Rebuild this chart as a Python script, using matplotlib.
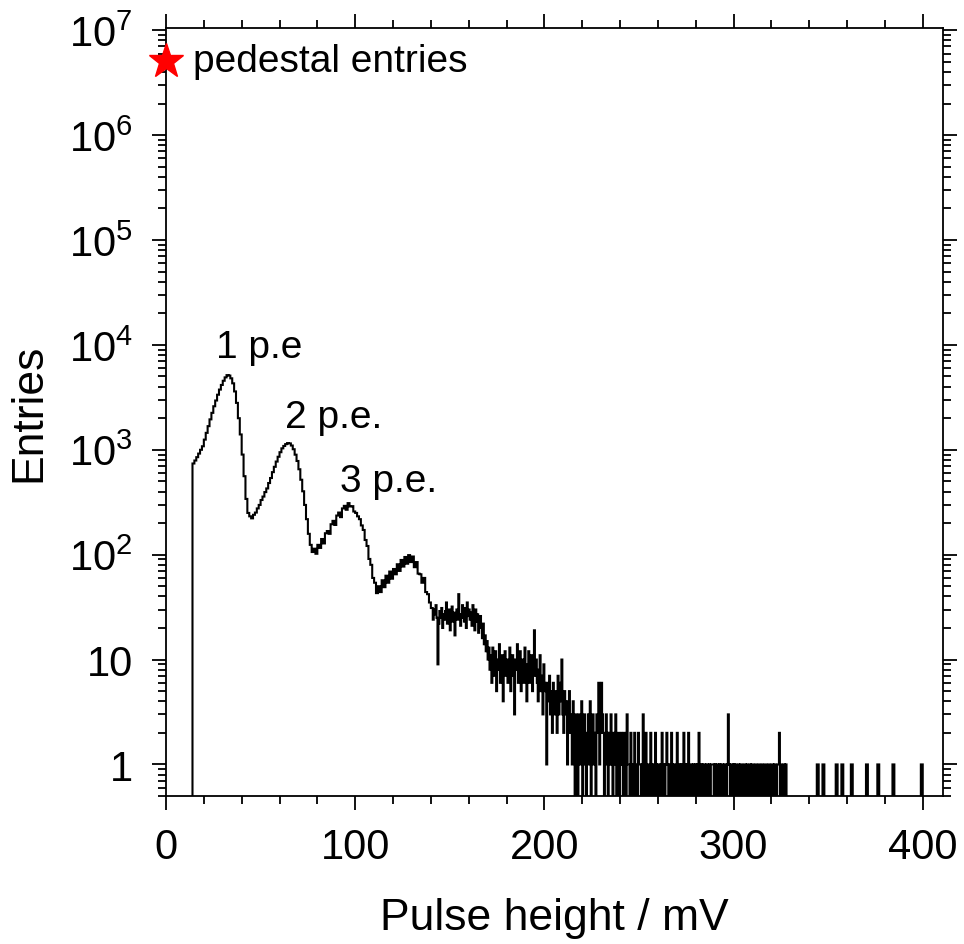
import numpy as np
import matplotlib
matplotlib.use('Agg')
from matplotlib import pyplot as plt

plt.rcParams['font.family'] = ['Liberation Sans', 'DejaVu Sans']
plt.rcParams['mathtext.fontset'] = 'custom'
plt.rcParams['mathtext.rm'] = 'Liberation Sans'
plt.rcParams['mathtext.it'] = 'Liberation Sans:italic'

# histogram
# peak region: 1 mV bins from 14 mV, noisy region: 0.5 mV bins from 141 mV
peak_start, peak_width = 14, 1.0
noise_start, noise_width = 141, 0.5
x_max = 410

# 14 .. 140 mV : 1, 2, 3 and 4 p.e. peaks
counts_pe = [
    740, 790, 850, 920, 1000, 1080, 1250, 1450, 1680, 1950,
    2250, 2600, 2950, 3350, 3750, 4150, 4550, 4900, 5150, 5100,
    4800, 4300, 3600, 2800, 2000, 1400, 900, 560, 340, 250, 232,
    222, 240, 252, 276, 298, 332, 358, 395, 428, 482,
    538, 612, 688, 772, 858, 948, 1032, 1088, 1132, 1158,
    1150, 1098, 1012, 898, 782, 652, 518, 402, 298, 218,
    158, 124, 106,
    114, 102, 124, 116, 141, 128, 160, 168, 158, 195,
    210, 192, 236, 252, 228, 276, 292, 268, 310, 288,
    290, 258, 250, 232, 218, 190, 172, 138, 121, 91,
    80, 60, 54, 43,
    50, 44, 57, 49, 63, 54, 69, 59, 73, 65,
    81, 70, 89, 77, 95, 82, 99, 85, 96, 76,
    85, 66, 65, 54, 60, 44, 42, 35, 31,
]

# 141 .. 330 mV, 0.5 mV bins
counts_noise = [
    24, 30, 27, 33, 25, 9, 22, 29, 25, 31, 20, 27, 24, 29, 35, 22, 26, 30, 19, 27,
    32, 23, 28, 17, 26, 30, 24, 42, 27, 21, 25, 33, 29, 23, 31, 20, 35, 26, 30, 24,
    28, 21, 33, 25, 19, 30, 23, 27, 18, 24, 26, 20, 16, 22, 14, 17, 12, 15, 10, 13,
    8, 11, 6, 13, 9, 7, 12, 5, 10, 8, 14, 6, 9, 11, 4, 8, 12, 7, 10, 6,
    9, 13, 5, 8, 11, 7, 3, 10, 8, 14, 6, 9, 12, 5, 8, 10, 6, 13, 7, 4,
    9, 12, 6, 8, 11, 5, 9, 19, 7, 10, 6, 4, 8, 11, 5, 7, 3, 9, 6, 5,
    1, 6, 4, 7, 3, 5, 2, 6, 4, 3, 5, 2, 7, 3, 4, 6, 10, 3, 2, 5,
    3, 4, 1, 3, 5, 2, 3, 1, 4, 2, 0, 3, 2, 0, 3, 1, 2, 4, 0, 2,
    3, 1, 0, 2, 3, 1, 4, 0, 2, 3, 1, 2, 0, 3, 2, 6, 1, 2, 6, 3,
    2, 0, 1, 3, 2, 0, 2, 1, 3, 1, 0, 2, 1, 3, 0, 1, 2, 0, 1, 2,
    1, 0, 2, 1, 0, 3, 1, 1, 0, 2, 1, 0, 1, 2, 0, 1, 0, 2, 1, 1,
    0, 1, 3, 0, 1, 2, 0, 1, 1, 0, 2, 1, 0, 1, 0, 2, 1, 0, 1, 1,
    0, 1, 2, 0, 1, 0, 1, 2, 1, 0, 1, 0, 2, 1, 0, 1, 1, 0, 2, 0,
    1, 0, 1, 0, 1, 2, 0, 1, 0, 1, 2, 0, 1, 1, 0, 1, 0, 1, 0, 1,
    0, 2, 1, 0, 1, 0, 1, 1, 0, 1, 1, 0, 1, 0, 1, 1, 1, 0, 1, 0,
    1, 1, 0, 1, 0, 1, 1, 0, 1, 1, 0, 1, 3, 1, 0, 1, 1, 0, 1, 0,
    1, 0, 0, 1, 0, 1, 1, 0, 0, 1, 1, 0, 1, 0, 0, 1, 0, 1, 1, 0,
    0, 1, 0, 0, 1, 1, 0, 0, 1, 0, 0, 1, 1, 0, 0, 1, 0, 0, 1, 1,
    0, 1, 0, 0, 1, 1, 2, 0, 1, 0, 0, 1, 0, 1, 0, 0, 0, 0, 0, 0,
]

# single entries beyond 330 mV (bin start, mV), 1 mV wide
single_entries = [344, 347, 354, 357, 362, 370, 376, 384, 399]

pedestal_x = 0
pedestal_y = 5.1e6

labels_pe = ['1 p.e', '2 p.e.', '3 p.e.']
labels_pe_x = [26.5, 63, 92]
labels_pe_y = [7600, 1650, 405]

# build edges and values for the step line
edges = [0.0, peak_start]
values = [0.0]
for i, c in enumerate(counts_pe):
    edges.append(peak_start + (i + 1) * peak_width)
    values.append(c)
for i, c in enumerate(counts_noise):
    edges.append(noise_start + (i + 1) * noise_width)
    values.append(c)
for e in single_entries:
    if e > edges[-1]:
        edges.append(e)
        values.append(0)
    edges.append(e + 1)
    values.append(1)
edges.append(x_max + 5)
values.append(0)
edges = np.array(edges)
values = np.array(values, dtype=float)

# empty bins drawn below the axis floor
draw = np.where(values > 0, values, 0.05)

fig = plt.figure(figsize=(9.64, 9.45), dpi=100)
ax = fig.add_axes([0.1722, 0.1566, 0.978 - 0.1722, 0.9693 - 0.1566])

ax.stairs(draw, edges, baseline=None, color='black', lw=1.5)

ax.set_yscale('log')
ax.set_xlim(0, 410.6)
ax.set_ylim(0.5, 1.05e7)

yt = [1, 10, 1e2, 1e3, 1e4, 1e5, 1e6, 1e7]
ylab = ['1', '10'] + [r'$10^{%d}$' % k for k in range(2, 8)]
ax.set_yticks(yt)
ax.set_yticklabels(ylab)
ax.yaxis.set_minor_locator(matplotlib.ticker.LogLocator(base=10, subs=np.arange(2, 10), numticks=20))
ax.yaxis.set_minor_formatter(matplotlib.ticker.NullFormatter())

ax.set_xticks([0, 100, 200, 300, 400])
ax.xaxis.set_minor_locator(matplotlib.ticker.MultipleLocator(20))

ax.tick_params(which='both', direction='out', top=True, right=True, width=1.3)
ax.tick_params(which='major', length=10, labelsize=30)
ax.tick_params(which='minor', length=5.5)
ax.tick_params(axis='y', which='major', pad=14)
ax.tick_params(axis='x', which='major', pad=12)
for s in ax.spines.values():
    s.set_linewidth(1.3)

ax.set_xlabel('Pulse height / mV', fontsize=32, labelpad=22)
ax.set_ylabel('Entries', fontsize=32, labelpad=14)

ax.plot([pedestal_x], [pedestal_y], marker='*', color='red', markersize=26,
        clip_on=False, zorder=5, ls='none')
ax.text(14.3, pedestal_y, 'pedestal entries', fontsize=28, va='center', ha='left')

for t, x, y in zip(labels_pe, labels_pe_x, labels_pe_y):
    ax.text(x, y, t, fontsize=28, ha='left', va='baseline')

fig.savefig('out.png', dpi=100)
